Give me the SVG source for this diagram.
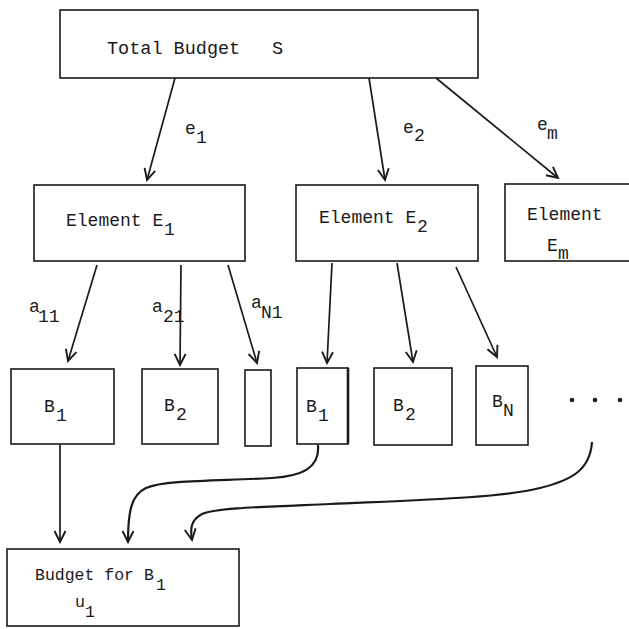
<svg xmlns="http://www.w3.org/2000/svg" width="629" height="629" viewBox="0 0 629 629">
  <defs>
    <style>
      .box { fill: #fff; stroke: #1a1a1a; stroke-width: 1.6; }
      .t { font-family: "Liberation Mono", "DejaVu Sans Mono", monospace; font-size: 18px; fill: #1a1a1a; }
      .big { font-size: 18.5px; }
      .sm { font-size: 16.5px; }
      .ln { fill: none; stroke: #1a1a1a; stroke-width: 1.7; }
      .cv { fill: none; stroke: #1a1a1a; stroke-width: 2.2; }
    </style>
    <marker id="ah" viewBox="-13 -8 15 16" refX="0" refY="0" markerWidth="15" markerHeight="16" markerUnits="userSpaceOnUse" orient="auto">
      <path d="M-11,-5.5 L0,0 L-11,5.5" fill="none" stroke="#1a1a1a" stroke-width="1.9"/>
    </marker>
  </defs>
  <rect width="629" height="629" fill="#fff"/>

  <g id="total-budget">
    <rect class="box" x="60" y="10" width="418" height="68"/>
    <text class="t big" x="107" y="54">Total Budget</text>
    <text class="t big" x="272" y="54">S</text>
  </g>

  <g id="element-e1">
    <rect class="box" x="34" y="185" width="211" height="76"/>
    <text class="t" x="66" y="226">Element E</text>
    <text class="t" x="164" y="235">1</text>
  </g>
  <g id="element-e2">
    <rect class="box" x="296" y="185" width="182" height="76"/>
    <text class="t" x="319" y="223">Element E</text>
    <text class="t" x="417" y="232">2</text>
  </g>
  <g id="element-em">
    <rect class="box" x="505" y="184" width="140" height="77"/>
    <text class="t" x="527" y="220">Element</text>
    <text class="t" x="547" y="251">E</text>
    <text class="t" x="558" y="259">m</text>
  </g>

  <g id="b1-a">
    <rect class="box" x="11" y="369" width="103" height="75"/>
    <text class="t" x="44" y="412">B</text>
    <text class="t" x="56" y="421">1</text>
  </g>
  <g id="b2-a">
    <rect class="box" x="142" y="369" width="76" height="75"/>
    <text class="t" x="164" y="411">B</text>
    <text class="t" x="176" y="420">2</text>
  </g>
  <g id="bn-a">
    <rect class="box" x="245" y="370" width="26" height="76"/>
  </g>
  <g id="b1-b">
    <rect class="box" x="297" y="368" width="51" height="76"/>
    <line x1="348" y1="368" x2="348" y2="444" stroke="#1a1a1a" stroke-width="2.6"/>
    <text class="t" x="306" y="412">B</text>
    <text class="t" x="318" y="421">1</text>
  </g>
  <g id="b2-b">
    <rect class="box" x="374" y="368" width="78" height="77"/>
    <text class="t" x="393" y="411">B</text>
    <text class="t" x="405" y="420">2</text>
  </g>
  <g id="bn-b">
    <rect class="box" x="476" y="366" width="52" height="79"/>
    <text class="t" x="492" y="407">B</text>
    <text class="t" x="503" y="416">N</text>
  </g>
  <g id="ellipsis">
    <circle cx="572" cy="400" r="2.3" fill="#1a1a1a"/>
    <circle cx="595" cy="400" r="2.3" fill="#1a1a1a"/>
    <circle cx="620" cy="400" r="2.3" fill="#1a1a1a"/>
  </g>

  <g id="budget-b1">
    <rect class="box" x="7" y="549" width="232" height="77"/>
    <text class="t sm" x="35" y="580">Budget for B</text>
    <text class="t sm" x="156" y="590">1</text>
    <text class="t sm" x="75" y="607">u</text>
    <text class="t sm" x="85" y="617">1</text>
  </g>

  <g id="connectors">
    <line class="ln" x1="175" y1="78" x2="147" y2="180" marker-end="url(#ah)"/>
    <line class="ln" x1="369" y1="78" x2="385" y2="180" marker-end="url(#ah)"/>
    <line class="ln" x1="436" y1="78" x2="558" y2="178" marker-end="url(#ah)"/>

    <line class="ln" x1="97" y1="265" x2="68" y2="361" marker-end="url(#ah)"/>
    <line class="ln" x1="181" y1="265" x2="180" y2="365" marker-end="url(#ah)"/>
    <line class="ln" x1="228" y1="265" x2="257" y2="363" marker-end="url(#ah)"/>

    <line class="ln" x1="332" y1="263" x2="327" y2="363" marker-end="url(#ah)"/>
    <line class="ln" x1="397" y1="263" x2="413" y2="362" marker-end="url(#ah)"/>
    <line class="ln" x1="456" y1="267" x2="497" y2="357" marker-end="url(#ah)"/>

    <line class="ln" x1="60" y1="445" x2="60" y2="542" marker-end="url(#ah)"/>
    <path class="cv" d="M318,445 C320,468 302,476 272,478 C215,481 165,480 146,488 C131,495 128,512 128,542" marker-end="url(#ah)"/>
    <path class="cv" d="M592,442 C590,470 572,480 540,488 C500,498 420,500 330,504 C260,507 216,508 202,514 C191,520 190,528 192,540" marker-end="url(#ah)"/>
  </g>

  <g id="labels">
    <text class="t" x="185" y="134">e</text>
    <text class="t" x="196" y="143">1</text>
    <text class="t" x="403" y="133">e</text>
    <text class="t" x="414" y="141">2</text>
    <text class="t" x="537" y="130">e</text>
    <text class="t" x="547" y="139">m</text>
    <text class="t" x="29" y="312">a</text>
    <text class="t" x="38" y="322">11</text>
    <text class="t" x="152" y="312">a</text>
    <text class="t" x="163" y="322">21</text>
    <text class="t" x="251" y="308">a</text>
    <text class="t" x="261" y="318">N1</text>
  </g>
</svg>
